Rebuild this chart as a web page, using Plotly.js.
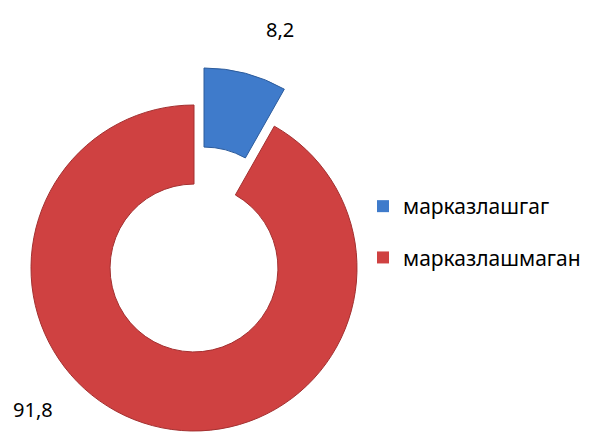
<!DOCTYPE html>
<html><head><meta charset="utf-8">
<script src="https://cdn.plot.ly/plotly-3.0.1.min.js"></script>
<style>html,body{margin:0;padding:0;background:#fff;overflow:hidden}</style>
</head><body><div id="chart" style="width:598px;height:432px"></div>
<script>
const labels = ['марказлашгаг', 'марказлашмаган'];
const values = [8.2, 91.8];
const sliceColors = ['#3F7BCB', '#CF4141'];
const edgeColors = ['#2D5C9C', '#A33030'];

const W = 598, H = 432;
const FONT = 'Noto Sans, Open Sans, sans-serif';
function dom(cx, cy, r) {
  return {x: [(cx - r) / W, (cx + r) / W], y: [(H - cy - r) / H, (H - cy + r) / H]};
}
const clear = 'rgba(0,0,0,0)';
const fmt = v => String(v).replace('.', ',');

const base = {type: 'pie', labels: labels, values: values, sort: false, direction: 'clockwise',
  rotation: 0, hole: 0.515, textinfo: 'none', hoverinfo: 'skip', showlegend: false};

const traceRed = Object.assign({}, base, {domain: dom(194, 268, 163),
  marker: {colors: [clear, sliceColors[1]], line: {color: [clear, edgeColors[1]], width: 1}}});
// exploded slice: same donut, shifted outward along the slice's mid-angle
const traceBlue = Object.assign({}, base, {domain: dom(204, 231, 163),
  marker: {colors: [sliceColors[0], clear], line: {color: [edgeColors[0], clear], width: 1}}});

const legendTraces = labels.map((lab, i) => ({
  type: 'pie', labels: [lab], values: [values[i]], marker: {colors: [sliceColors[i]]},
  domain: {x: [0.001, 0.0012], y: [0.998, 0.9982]}, textinfo: 'none', hoverinfo: 'skip',
  legendgroup: 'g' + i, showlegend: true
}));

const layout = {
  width: W, height: H, margin: {l: 0, r: 0, t: 0, b: 0},
  paper_bgcolor: '#fff', plot_bgcolor: '#fff',
  font: {family: FONT, color: '#000'},
  showlegend: true,
  legend: {x: 363 / W, xanchor: 'left', y: 1 - 186 / H, yanchor: 'top',
    font: {family: FONT, size: 21, color: '#000'}, tracegroupgap: 21, traceorder: 'grouped',
    bgcolor: 'rgba(0,0,0,0)'},
  annotations: [
    {text: fmt(values[0]), x: 280 / W, y: 1 - 29 / H, xref: 'paper', yref: 'paper',
      showarrow: false, xanchor: 'center', yanchor: 'middle', font: {family: FONT, size: 20, color: '#000'}},
    {text: fmt(values[1]), x: 33 / W, y: 1 - 409 / H, xref: 'paper', yref: 'paper',
      showarrow: false, xanchor: 'center', yanchor: 'middle', font: {family: FONT, size: 20, color: '#000'}}
  ]
};

Plotly.newPlot('chart', [traceRed, traceBlue].concat(legendTraces), layout, {displayModeBar: false, staticPlot: true});
</script></body></html>
